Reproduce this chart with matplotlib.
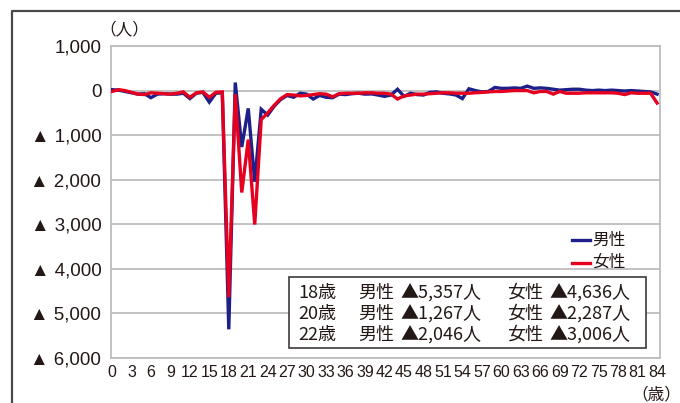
import matplotlib
matplotlib.use("Agg")
import matplotlib.pyplot as plt
import matplotlib.font_manager as fm
from matplotlib.lines import Line2D
from matplotlib.patches import Rectangle

# ---------------- data ----------------
ages = list(range(0, 85))
male = [20, 10, -20, -50, -80, -70, -160, -80, -70, -80,
        -80, -60, -180, -60, -40, -260, -60, -50, -5357, 180,
        -1267, -400, -2046, -420, -550, -350, -200, -110, -150, -60,
        -80, -190, -110, -150, -160, -80, -90, -70, -60, -80,
        -75, -100, -130, -100, 30, -130, -60, -90, -100, -40,
        -30, -60, -75, -100, -180, 40, 0, -30, -20, 70,
        50, 50, 60, 50, 100, 50, 60, 50, 30, 10,
        20, 30, 30, 10, 0, 10, 0, 10, 0, -10,
        0, -10, -20, -30, -80]
female = [-20, 20, 0, -40, -80, -90, -50, -60, -70, -80,
          -60, -30, -150, -50, -30, -150, -40, -30, -4636, -80,
          -2287, -1100, -3006, -650, -500, -330, -180, -90, -100, -120,
          -110, -90, -70, -80, -140, -70, -60, -60, -60, -50,
          -50, -60, -60, -80, -190, -120, -100, -80, -80, -70,
          -60, -50, -50, -60, -60, -60, -50, -40, -30, -20,
          -20, -10, 0, 0, 0, -50, -20, -20, -80, -20,
          -60, -60, -60, -50, -50, -50, -50, -50, -60, -90,
          -50, -60, -60, -60, -280]
xticks = list(range(0, 85, 3))
yticks = [1000, 0, -1000, -2000, -3000, -4000, -5000, -6000]
ytick_labels = ["1,000", "0", "▲ 1,000", "▲ 2,000", "▲ 3,000",
                "▲ 4,000", "▲ 5,000", "▲ 6,000"]
series_names = ["男性", "女性"]
note_rows = [
    ["18歳", "男性", "▲5,357人", "女性", "▲4,636人"],
    ["20歳", "男性", "▲1,267人", "女性", "▲2,287人"],
    ["22歳", "男性", "▲2,046人", "女性", "▲3,006人"],
]

# ---------------- fonts ----------------
names = {f.name for f in fm.fontManager.ttflist}
narrow = "Liberation Sans Narrow" if "Liberation Sans Narrow" in names else None
JP = ["Noto Sans CJK JP", "DejaVu Sans"]
LAT = ["Liberation Sans", "DejaVu Sans"]

W, H = 680, 403
def fx(px):
    return px / W
def fy(py):
    return 1 - py / H

BLUE = "#1d2088"
RED = "#e60020"
GRID = "#bdbdbd"
TXT = "#231815"

fig = plt.figure(figsize=(W / 100, H / 100), dpi=100)
ax = fig.add_axes([fx(111), fy(358), fx(660) - fx(111), fy(46) - fy(358)])

ax.plot(ages, male, color=BLUE, lw=2.4, solid_joinstyle="miter", zorder=3)
ax.plot(ages, female, color=RED, lw=2.4, solid_joinstyle="miter", zorder=4)

ax.set_xlim(-0.15, 84.45)
ax.set_ylim(-6000, 1000)
ax.set_yticks(yticks)
ax.set_yticklabels(ytick_labels, family=LAT, fontsize=13.5, color=TXT)
ax.set_xticks(xticks)
if narrow:
    ax.set_xticklabels([str(t) for t in xticks], family=[narrow, "DejaVu Sans"],
                       fontsize=12.5, color=TXT)
else:
    ax.set_xticklabels([str(t) for t in xticks], family=LAT,
                       fontsize=11.5, color=TXT)
ax.tick_params(axis="both", length=0)
ax.tick_params(axis="y", pad=7)
ax.tick_params(axis="x", pad=5)
ax.yaxis.grid(True, color=GRID, lw=1.3)
ax.set_axisbelow(True)
for s in ax.spines.values():
    s.set_color(GRID)
    s.set_linewidth(1.3)

# unit labels
fig.text(fx(124), fy(30), "（人）", family=JP, fontsize=12, ha="center",
         va="center", color=TXT)
fig.text(fx(656), fy(395), "（歳）", family=JP, fontsize=12, ha="center",
         va="center", color=TXT)

# legend
for i, (name, col) in enumerate(zip(series_names, [BLUE, RED])):
    yy = 240 + i * 22.5
    fig.add_artist(Line2D([fx(572), fx(590)], [fy(yy), fy(yy)], color=col,
                          lw=2.4, transform=fig.transFigure))
    fig.text(fx(592), fy(yy), name, family=JP, fontsize=12, ha="left",
             va="center", color=TXT)

# annotation box
fig.add_artist(Rectangle((fx(289), fy(348)), fx(646) - fx(289), fy(277) - fy(348),
                         transform=fig.transFigure, facecolor="white",
                         edgecolor="#3e3a39", lw=1.2, zorder=5))
cols_x = [298, 358, 400, 507, 549]
for r, row in enumerate(note_rows):
    yy = 293 + r * 21
    for cx, txt in zip(cols_x, row):
        fig.text(fx(cx), fy(yy), txt, family=JP, fontsize=13, ha="left",
                 va="center", color=TXT, zorder=6)

# outer frame
fig.add_artist(Line2D([fx(12), fx(12), 1.01], [-0.01, fy(11), fy(11)],
                      color="#4a4a4a", lw=1.6, transform=fig.transFigure))

fig.savefig("out.png", dpi=100)
